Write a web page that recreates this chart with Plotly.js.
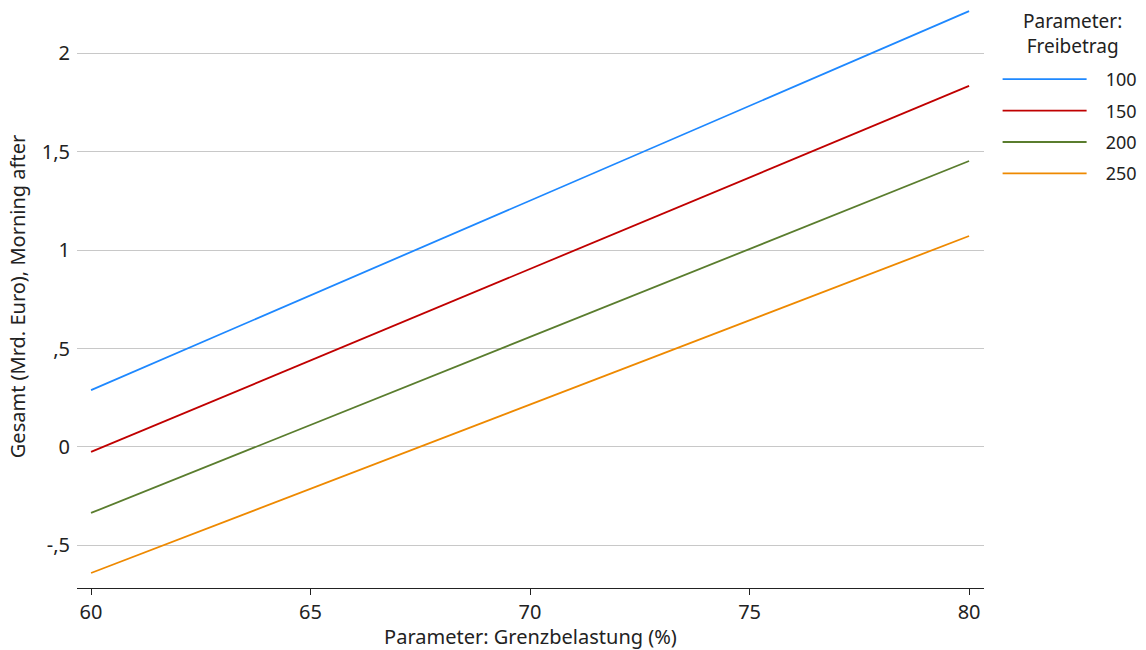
<!DOCTYPE html>
<html>
<head>
<meta charset="utf-8">
<script src="https://cdn.plot.ly/plotly-3.0.1.min.js"></script>
<style>body{margin:0;padding:0;background:#fff}#chart{width:1146px;height:650px}</style>
</head>
<body>
<div id="chart"></div>
<script>
const grenzbelastung = [60, 80];
const freibetrag = ["100", "150", "200", "250"];
const gesamt100 = [0.289, 2.213];
const gesamt150 = [-0.025, 1.833];
const gesamt200 = [-0.335, 1.452];
const gesamt250 = [-0.640, 1.071];
const yTickVals = [-0.5, 0, 0.5, 1, 1.5, 2];
const yTickText = ["-,5", "0", ",5", "1", "1,5", "2"];
const xTickVals = [60, 65, 70, 75, 80];
const legendTitle = "Parameter:<br>Freibetrag";

const colors = ["#1e88ff", "#c00000", "#5a7d2e", "#ee8900"];
const series = [gesamt100, gesamt150, gesamt200, gesamt250];
const font = "'Noto Sans', 'Open Sans', sans-serif";
const pad = "\u00a0\u00a0\u00a0";

const traces = series.map((s, i) => ({
  x: grenzbelastung, y: s, type: "scatter", mode: "lines",
  name: pad + freibetrag[i], legendgroup: "g" + i,
  line: {color: colors[i], width: 1.8}
}));

// plot area geometry (for placing the legend title in paper coordinates)
const H = 650, T = 5, B = 62, L = 77, R = 162, W = 1146;
const ph = H - T - B, pw = W - L - R;

const layout = {
  width: W, height: H,
  margin: {l: L, r: R, t: T, b: B, autoexpand: false},
  paper_bgcolor: "#fff", plot_bgcolor: "#fff",
  font: {family: font, size: 20, color: "#222"},
  showlegend: true,
  legend: {
    x: 1.015, xanchor: "left", y: 1 - (61 - T) / ph, yanchor: "top",
    itemwidth: 84, tracegroupgap: 5,
    font: {size: 18}, bgcolor: "rgba(0,0,0,0)"
  },
  annotations: [{
    text: legendTitle, xref: "paper", yref: "paper",
    x: (1072 - L) / pw, y: 1 - (34 - T) / ph,
    xanchor: "center", yanchor: "middle", align: "center", showarrow: false,
    font: {size: 19, color: "#222"}
  }],
  xaxis: {
    range: [59.68, 80.34], tickvals: xTickVals, ticks: "outside", ticklen: 6, tickcolor: "#222",
    showline: true, linecolor: "#222", linewidth: 1, showgrid: false, zeroline: false,
    title: {text: "Parameter: Grenzbelastung (%)", font: {size: 20}, standoff: 2},
    tickfont: {size: 20}
  },
  yaxis: {
    range: [-0.716, 2.244], tickvals: yTickVals, ticktext: yTickText, ticks: "",
    ticklabelstandoff: 6,
    showgrid: true, gridcolor: "#c8c8c8", gridwidth: 1, zeroline: false, showline: false,
    title: {text: "Gesamt (Mrd. Euro), Morning after", font: {size: 20}, standoff: 10},
    tickfont: {size: 20}
  }
};

Plotly.newPlot("chart", traces, layout, {displayModeBar: false, staticPlot: true});
</script>
</body>
</html>
